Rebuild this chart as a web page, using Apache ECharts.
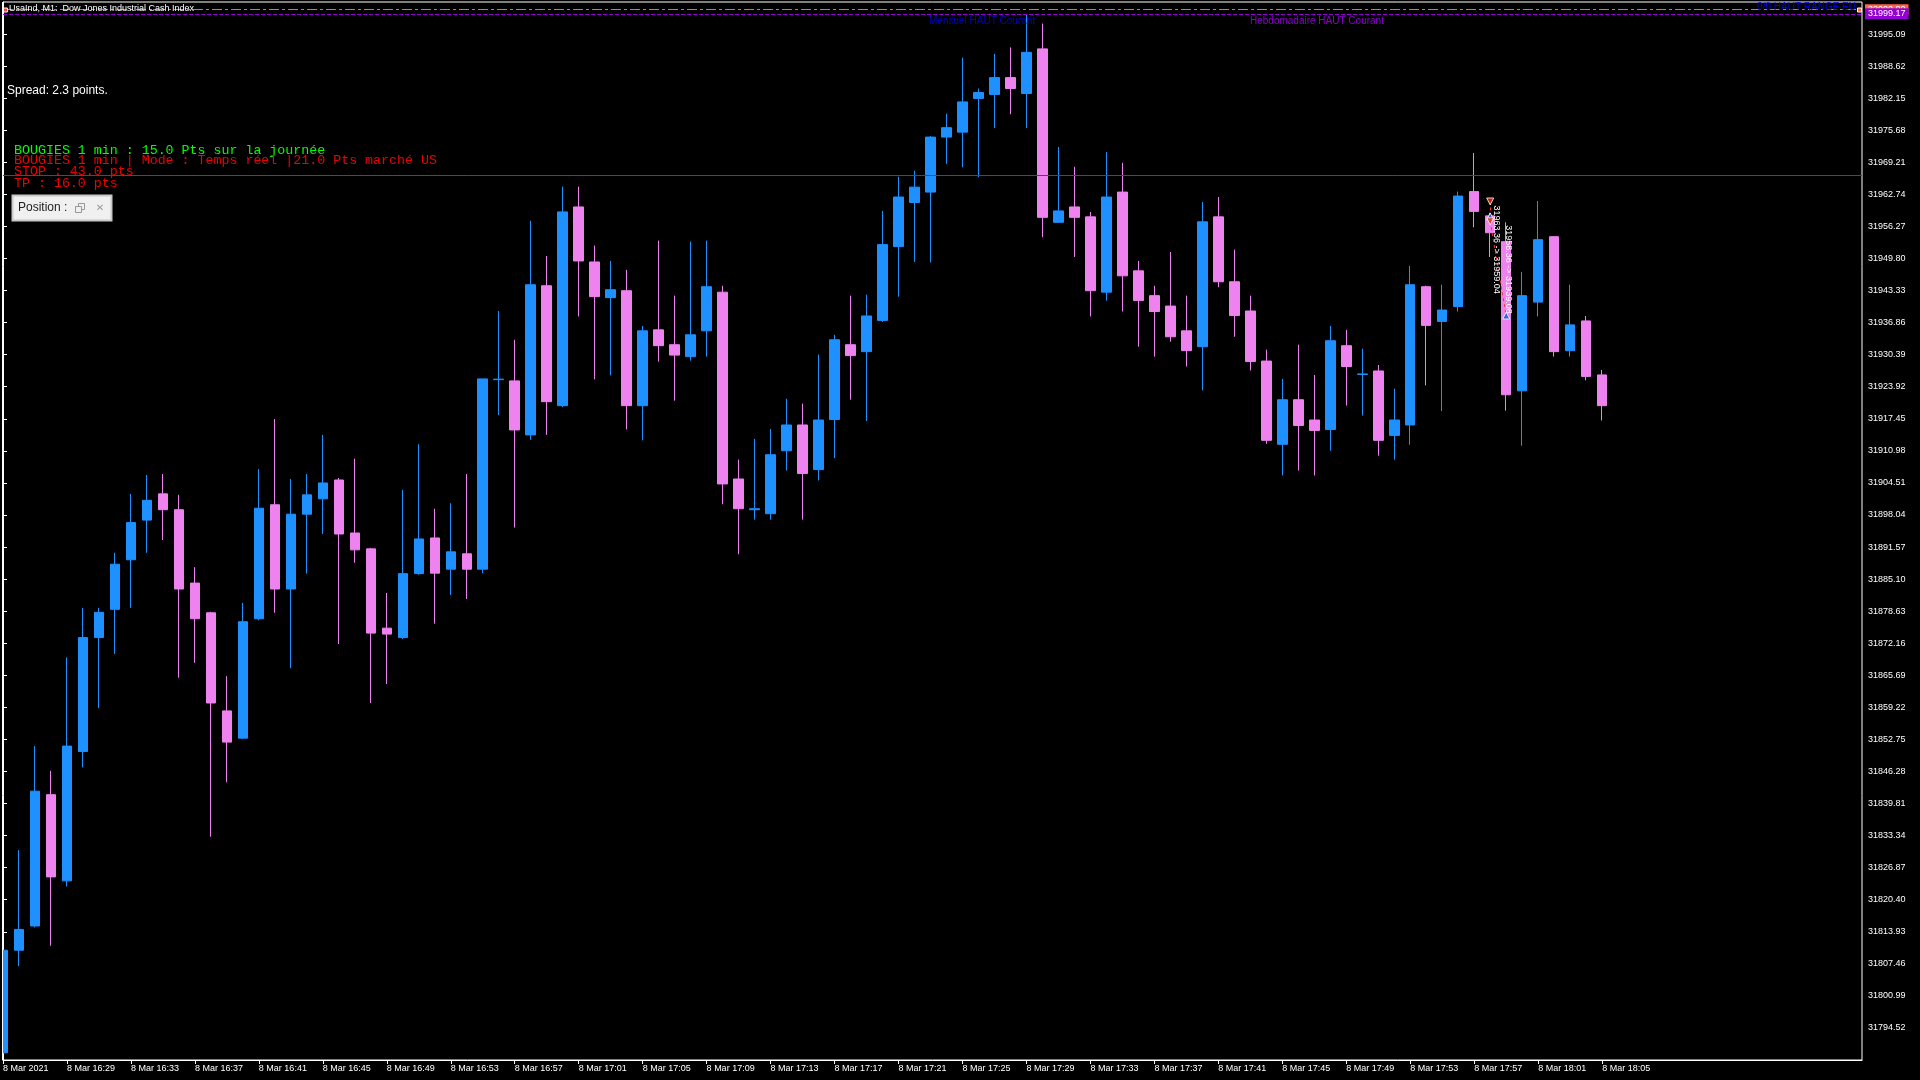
<!DOCTYPE html>
<html><head><meta charset="utf-8">
<script src="https://cdn.jsdelivr.net/npm/echarts@6/dist/echarts.min.js"></script>
<style>html,body{margin:0;padding:0;background:#000;overflow:hidden}#c{width:1920px;height:1080px}</style>
</head><body><div id="c"></div>
<script>
const times = ['16:25','16:26','16:27','16:28','16:29','16:30','16:31','16:32','16:33','16:34',
'16:35','16:36','16:37','16:38','16:39','16:40','16:41','16:42','16:43','16:44',
'16:45','16:46','16:47','16:48','16:49','16:50','16:51','16:52','16:53','16:54',
'16:55','16:56','16:57','16:58','16:59','17:00','17:01','17:02','17:03','17:04',
'17:05','17:06','17:07','17:08','17:09','17:10','17:11','17:12','17:13','17:14',
'17:15','17:16','17:17','17:18','17:19','17:20','17:21','17:22','17:23','17:24',
'17:25','17:26','17:27','17:28','17:29','17:30','17:31','17:32','17:33','17:34',
'17:35','17:36','17:37','17:38','17:39','17:40','17:41','17:42','17:43','17:44',
'17:45','17:46','17:47','17:48','17:49','17:50','17:51','17:52','17:53','17:54',
'17:55','17:56','17:57','17:58','17:59','18:00','18:01','18:02','18:03','18:04','18:05'];

const opens = [31789.5,31810.2,31815.1,31841.6,31824.2,31850.3,31873.3,31879.0,31889.0,31897.0,
31902.3,31899.1,31884.3,31878.3,31858.5,31853.0,31877.1,31900.1,31883.1,31898.2,
31901.3,31905.1,31894.4,31891.2,31875.2,31873.3,31886.2,31893.4,31887.1,31890.2,
31887.1,31925.35,31925.1,31914.2,31944.3,31920.1,31960.2,31949.1,31941.9,31943.3,
31920.1,31935.4,31932.4,31930.0,31935.2,31943.0,31905.3,31899.1,31898.3,31911.0,
31916.2,31907.2,31917.3,31932.4,31931.0,31937.3,31952.2,31961.1,31963.2,31974.3,
31975.3,31982.1,31982.9,31986.3,31983.1,31992.1,31957.1,31960.2,31958.2,31943.0,
31963.2,31947.3,31942.3,31940.2,31935.2,31932.0,31958.2,31945.1,31939.2,31929.1,
31912.3,31921.3,31917.2,31915.3,31932.2,31926.4,31927.1,31914.1,31916.2,31944.1,
31937.1,31940.1,31963.3,31958.4,31953.2,31923.1,31941.0,31954.2,31931.2,31937.2,31926.3];

const highs = [31811.5,31830.4,31851.4,31846.4,31869.3,31879.3,31879.3,31890.4,31902.3,31906.1,
31906.3,31902.1,31887.5,31878.5,31865.5,31880.3,31907.3,31917.4,31905.3,31906.3,
31914.2,31905.5,31909.4,31891.4,31882.3,31903.1,31912.3,31899.3,31900.4,31906.3,
31925.5,31939.2,31933.4,31957.4,31950.3,31964.3,31964.3,31952.4,31949.3,31947.5,
31936.2,31953.4,31942.3,31953.2,31953.4,31944.3,31909.2,31913.4,31915.4,31921.5,
31920.5,31930.4,31934.4,31942.3,31942.5,31959.4,31966.3,31967.5,31974.5,31979.0,
31990.3,31984.1,31991.1,31992.4,31999.1,31997.2,31972.3,31968.3,31959.2,31971.3,
31969.1,31949.3,31944.3,31951.1,31942.3,31961.2,31962.2,31951.6,31942.3,31931.4,
31925.5,31932.4,31926.3,31936.2,31935.4,31931.6,31928.3,31923.5,31948.3,31944.3,
31944.5,31963.3,31971.1,31959.0,31957.1,31947.1,31961.4,31954.3,31944.5,31938.2,31927.3];

const lows = [31788.3,31807.0,31814.8,31811.1,31823.1,31847.1,31859.1,31870.0,31879.3,31890.4,
31893.0,31865.2,31868.2,31833.1,31844.1,31852.8,31876.8,31878.3,31867.1,31886.2,
31894.2,31872.0,31888.4,31860.1,31863.9,31873.0,31886.0,31876.1,31881.9,31881.1,
31886.3,31918.2,31895.5,31913.2,31914.2,31919.8,31938.1,31925.4,31926.2,31915.3,
31913.1,31929.0,31921.1,31929.2,31930.0,31900.2,31890.1,31897.1,31897.1,31907.0,
31897.1,31905.0,31909.5,31921.3,31917.0,31937.0,31942.1,31949.1,31949.0,31968.9,
31968.2,31966.2,31976.1,31978.9,31976.1,31954.1,31957.0,31950.1,31938.1,31941.3,
31939.1,31932.0,31930.0,31933.0,31928.0,31923.2,31944.0,31934.0,31927.2,31912.4,
31906.0,31907.0,31906.0,31911.0,31920.1,31918.1,31910.0,31909.2,31912.2,31924.2,
31919.0,31939.1,31956.1,31950.1,31919.1,31912.0,31938.1,31930.0,31930.0,31925.2,31917.1];

const closes = [31810.2,31814.4,31842.3,31825.0,31851.4,31873.3,31878.4,31888.1,31896.5,31901.0,
31899.1,31883.1,31877.1,31860.1,31852.2,31876.5,31899.4,31883.1,31898.2,31902.1,
31904.5,31894.2,31891.0,31874.2,31874.0,31886.2,31893.2,31886.3,31890.6,31887.1,
31925.5,31925.45,31915.2,31944.5,31920.9,31959.2,31949.3,31942.1,31943.5,31920.1,
31935.2,31932.2,31930.3,31934.4,31944.1,31904.3,31899.3,31899.3,31910.2,31916.2,
31906.4,31917.2,31933.4,31930.2,31938.2,31952.6,31962.2,31964.2,31974.3,31976.2,
31981.4,31983.3,31986.3,31984.1,31991.4,31958.1,31959.4,31958.1,31943.3,31962.2,
31946.3,31941.3,31939.1,31934.0,31931.2,31957.2,31945.1,31938.3,31929.0,31913.1,
31921.3,31916.1,31915.1,31933.2,31928.0,31926.5,31913.1,31917.2,31944.5,31936.3,
31939.4,31962.4,31959.3,31955.0,31922.3,31942.3,31953.6,31931.0,31936.4,31926.0,31920.1];

const yTicks = [31794.52,31800.99,31807.46,31813.93,31820.40,31826.87,31833.34,31839.81,
31846.28,31852.75,31859.22,31865.69,31872.16,31878.63,31885.10,31891.57,31898.04,31904.51,
31910.98,31917.45,31923.92,31930.39,31936.86,31943.33,31949.80,31956.27,31962.74,31969.21,
31975.68,31982.15,31988.62,31995.09];

const xTickIdx = [0,4,8,12,16,20,24,28,32,36,40,44,48,52,56,60,64,68,72,76,80,84,88,92,96,100];
const xTickLabels = ['8 Mar 2021','8 Mar 16:29','8 Mar 16:33','8 Mar 16:37','8 Mar 16:41','8 Mar 16:45',
'8 Mar 16:49','8 Mar 16:53','8 Mar 16:57','8 Mar 17:01','8 Mar 17:05','8 Mar 17:09','8 Mar 17:13',
'8 Mar 17:17','8 Mar 17:21','8 Mar 17:25','8 Mar 17:29','8 Mar 17:33','8 Mar 17:37','8 Mar 17:41',
'8 Mar 17:45','8 Mar 17:49','8 Mar 17:53','8 Mar 17:57','8 Mar 18:01','8 Mar 18:05'];

const stopLine = 31966.65;
const rangeHigh = 32000.00;
const monthHigh = 31999.17;
// trade history marks (bar index, price)
const tradeOpenIdx = [93, 93];
const tradeOpenPx = [31961.3, 31957.3];
const tradeCloseIdx = [93, 94];
const tradeClosePx = [31958.3, 31938.3];
const tradeText = ['31963.36 -> 31959.04', '31958.36 -> 31939.08'];

const candles = times.map((t, i) => [i, opens[i], closes[i], lows[i], highs[i]]);

const AX = '"Liberation Sans", Arial, sans-serif';
const chart = echarts.init(document.getElementById('c'));
const baseGraphic = [
    { type: 'rect', z: 100, shape: { x: 0, y: 0, width: 2, height: 1062 }, style: { fill: '#000' } },
    { type: 'line', z: 100, shape: { x1: 2.5, y1: 2, x2: 2.5, y2: 1060 }, style: { stroke: '#fff', lineWidth: 1 } },
    { type: 'rect', shape: { x: 3.5, y: 8, width: 4, height: 4 }, style: { fill: '#FF4040', stroke: '#fff', lineWidth: 1 }, z: 100 },
    { type: 'text', z: 100, style: { x: 9, y: 9, text: 'UsaInd, M1:  Dow Jones Industrial Cash Index', fill: '#fff',
      font: '9px "Liberation Sans"', textVerticalAlign: 'middle', verticalAlign: 'middle' } },
    { type: 'text', z: 100, style: { x: 1856, y: 7, text: '0/0 HAUT RANGE EU', fill: '#0000E6', textAlign: 'right', align: 'right',
      font: '10px "Liberation Sans"', textVerticalAlign: 'middle', verticalAlign: 'middle' } },
    { type: 'rect', shape: { x: 1857.5, y: 8, width: 4, height: 4 }, style: { fill: '#FF6347', stroke: '#fff', lineWidth: 1 }, z: 100 },
    { type: 'text', z: 100, style: { x: 929, y: 21, text: 'Mensuel HAUT Courant', fill: '#0000CD',
      font: '10px "Liberation Sans"', textVerticalAlign: 'middle', verticalAlign: 'middle' } },
    { type: 'text', z: 100, style: { x: 1250, y: 21, text: 'Hebdomadaire HAUT Courant', fill: '#8A00D0',
      font: '10px "Liberation Sans"', textVerticalAlign: 'middle', verticalAlign: 'middle' } },
    { type: 'text', z: 100, style: { x: 7, y: 91, text: 'Spread: 2.3 points.', fill: '#fff',
      font: '12px "Liberation Sans"', textVerticalAlign: 'middle', verticalAlign: 'middle' } },
    { type: 'text', z: 100, style: { x: 14, y: 150, text: 'BOUGIES 1 min : 15.0 Pts sur la journée', fill: '#00FF00',
      font: '13.3px "Liberation Mono"', textVerticalAlign: 'middle', verticalAlign: 'middle' } },
    { type: 'text', z: 100, style: { x: 14, y: 160, text: 'BOUGIES 1 min | Mode : Temps réel |21.0 Pts marché US', fill: '#F00000',
      font: '13.3px "Liberation Mono"', textVerticalAlign: 'middle', verticalAlign: 'middle' } },
    { type: 'text', z: 100, style: { x: 14, y: 171.5, text: 'STOP : 43.0 pts', fill: '#F00000',
      font: '13.3px "Liberation Mono"', textVerticalAlign: 'middle', verticalAlign: 'middle' } },
    { type: 'text', z: 100, style: { x: 14, y: 183, text: 'TP : 16.0 pts', fill: '#F00000',
      font: '13.3px "Liberation Mono"', textVerticalAlign: 'middle', verticalAlign: 'middle' } },
    { type: 'rect', z: 100, shape: { x: 12.5, y: 195.5, width: 99, height: 25 }, style: { fill: '#F0F0F0', stroke: '#C8C8C8', lineWidth: 2 } },
    { type: 'text', z: 101, style: { x: 18, y: 208, text: 'Position :', fill: '#222',
      font: '12px "Liberation Sans"', textVerticalAlign: 'middle', verticalAlign: 'middle' } },
    { type: 'rect', z: 101, shape: { x: 78.5, y: 203.5, width: 6, height: 6 }, style: { fill: 'none', stroke: '#999', lineWidth: 1 } },
    { type: 'rect', z: 101, shape: { x: 75.5, y: 206.5, width: 6, height: 6 }, style: { fill: '#F0F0F0', stroke: '#999', lineWidth: 1 } },
    { type: 'text', z: 101, style: { x: 100, y: 208, text: '✕', fill: '#999', textAlign: 'center', align: 'center',
      font: 'bold 10px "DejaVu Sans"', textVerticalAlign: 'middle', verticalAlign: 'middle' } }
];

const tradeSeriesData = [];
tradeOpenIdx.forEach((k, i) => {
  tradeSeriesData.push({ value: [k, tradeOpenPx[i]], symbol: 'triangle', symbolRotate: 180,
    itemStyle: { color: '#E03000', borderColor: '#fff', borderWidth: 1 } });
  tradeSeriesData.push({ value: [tradeCloseIdx[i], tradeClosePx[i]], symbol: 'triangle', symbolRotate: 0,
    itemStyle: { color: '#1060D0', borderColor: '#fff', borderWidth: 1 } });
});

chart.setOption({
  animation: false,
  backgroundColor: '#000',
  grid: { left: 2, right: 58, top: 2, bottom: 20, show: true, borderColor: '#fff', borderWidth: 1, backgroundColor: '#000' },
  xAxis: {
    type: 'value', min: 0, max: 116.25,
    axisLine: { show: true, lineStyle: { color: '#fff' } },
    axisTick: { show: true, length: 4, customValues: xTickIdx, lineStyle: { color: '#fff' } },
    axisLabel: { customValues: xTickIdx, color: '#fff', fontSize: 9, fontFamily: AX, align: 'left', margin: 4,
      formatter: v => { const k = xTickIdx.indexOf(Math.round(v)); return k >= 0 ? xTickLabels[k] : ''; } },
    splitLine: { show: false }
  },
  yAxis: {
    type: 'value', position: 'right', min: 31788.05, max: 32001.56,
    axisLine: { show: true, lineStyle: { color: '#fff' } },
    axisTick: { show: true, length: 4, customValues: yTicks, lineStyle: { color: '#fff' } },
    axisLabel: { customValues: yTicks, color: '#fff', fontSize: 9, fontFamily: AX, margin: 6,
      formatter: v => Number(v).toFixed(2) },
    splitLine: { show: false }
  },
  series: [{
    type: 'candlestick',
    dimensions: ['idx', 'open', 'close', 'lowest', 'highest'],
    encode: { x: 'idx', y: ['open', 'close', 'lowest', 'highest'] },
    data: candles,
    barWidth: 10,
    clip: true,
    itemStyle: { color: '#1E90FF', color0: '#EE82EE', borderColor: '#1E90FF', borderColor0: '#EE82EE', borderWidth: 1 },
    markLine: {
      silent: true, symbol: 'none', animation: false,
      data: [
        { yAxis: stopLine, lineStyle: { color: '#FF0000', type: 'solid', width: 1 }, label: { show: false } },
        { yAxis: rangeHigh, lineStyle: { color: '#FF6347', type: [10, 3, 3, 3], width: 1 },
          label: { show: true, position: 'end', distance: 3, formatter: '32000.00', color: '#fff', backgroundColor: '#FF6347',
            padding: [1, 3, 1, 3], fontSize: 9, fontFamily: AX } },
        { yAxis: monthHigh, lineStyle: { color: '#9400D3', type: [4, 2], width: 1 },
          label: { show: true, position: 'end', distance: 3, formatter: '31999.17', color: '#fff', backgroundColor: '#9400D3',
            padding: [1, 3, 1, 3], fontSize: 9, fontFamily: AX } }
      ]
    }
  }, {
    type: 'scatter',
    data: tradeSeriesData,
    symbolSize: 7,
    z: 5,
    markLine: {
      silent: true, symbol: 'none',
      lineStyle: { color: '#FF3030', type: [3, 3], width: 1 },
      label: { show: false },
      data: tradeOpenIdx.map((k, i) => [{ coord: [k, tradeOpenPx[i]] }, { coord: [tradeCloseIdx[i], tradeClosePx[i]] }])
    }
  }],
  graphic: baseGraphic
});

// trade descriptions drawn along the (near-vertical) trade lines, anchored through the chart's own scales
const extra = tradeOpenIdx.map((k, i) => {
  const p = chart.convertToPixel({ gridIndex: 0 }, [k, tradeOpenPx[i]]);
  return { type: 'text', z: 60, x: p[0] + 6 + i * 12, y: p[1] + 4, rotation: -Math.PI / 2,
    style: { x: 0, y: 0, text: tradeText[i], fill: '#fff', font: '9px "Liberation Sans"',
      textAlign: 'left', align: 'left', textVerticalAlign: 'middle', verticalAlign: 'middle' } };
});
chart.setOption({ graphic: baseGraphic.concat(extra) });
</script>
</body></html>
